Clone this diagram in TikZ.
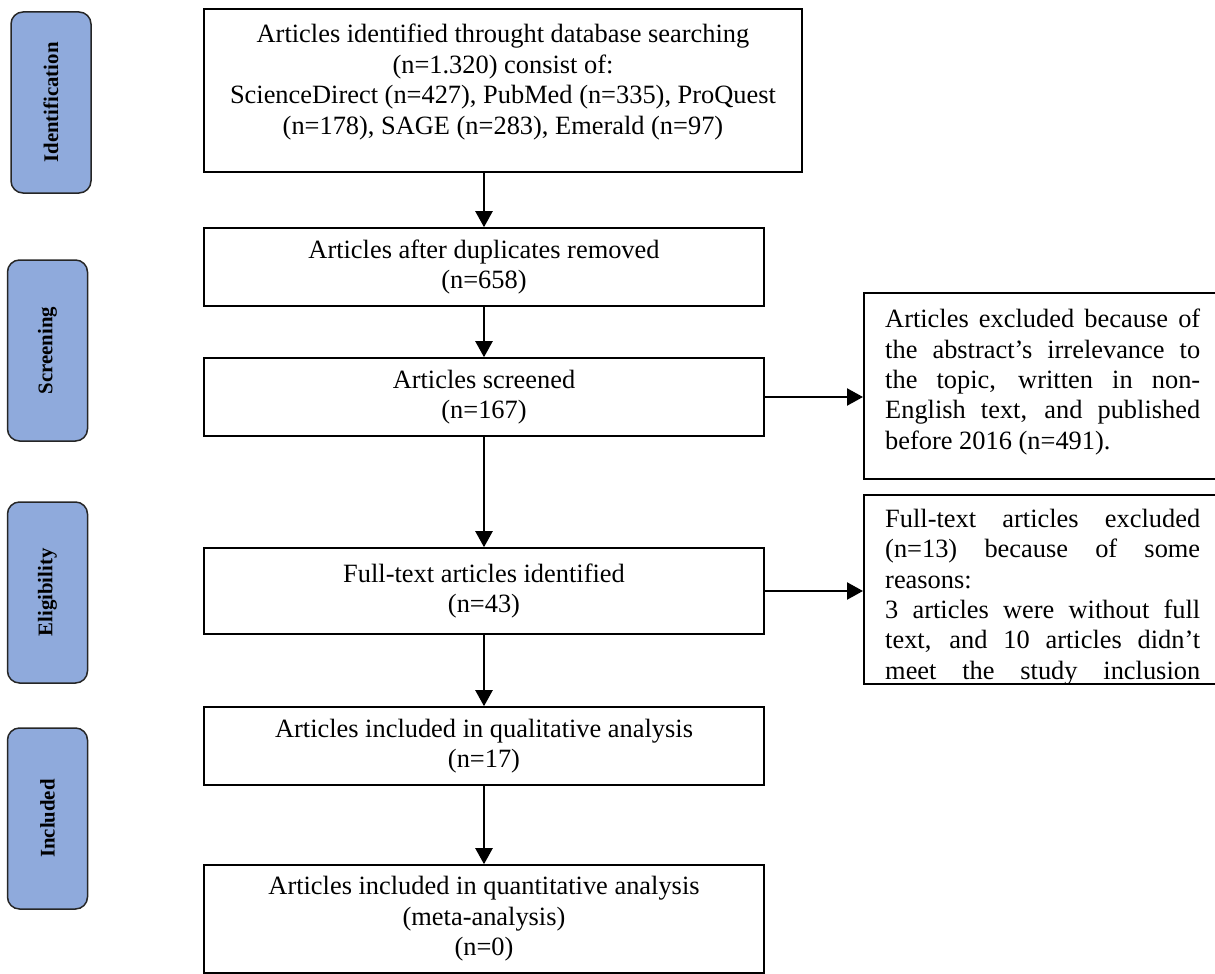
\documentclass[tikz,border=0pt]{standalone}
\usepackage{fontspec}
\setmainfont{Liberation Serif}
\usetikzlibrary{arrows.meta}
\definecolor{phaseblue}{HTML}{8FAADC}
\tikzset{
  box/.style={draw=black, line width=1.6pt, inner sep=0pt, align=center},
  txt/.style={inner sep=0pt, align=center, font=\fontsize{26.4}{30.4}\selectfont},
  sidetxt/.style={inner sep=0pt, align=left, anchor=west, font=\fontsize{26.4}{30.4}\selectfont},
  phase/.style={draw=black!85, line width=1.5pt, fill=phaseblue, rounded corners=12pt, rotate=90,
    minimum width=181pt, minimum height=80pt, inner sep=0pt, font=\fontsize{20.8}{24}\selectfont\bfseries},
  arr/.style={line width=2.3pt, -{Triangle[length=16pt,width=17pt]}},
}
\newcommand{\jl}[1]{\makebox[315pt][s]{#1}}
\begin{document}
\begin{tikzpicture}[x=1pt,y=-1pt]
\useasboundingbox (0,0) rectangle (1215,974);
\clip (0,0) rectangle (1215,974);
% phase labels
\node[phase] (ph1) at (51,102.5) {Identification};
\node[phase] (ph2) at (47.5,350.5) {Screening};
\node[phase] (ph3) at (47.5,592.5) {Eligibility};
\node[phase] (ph4) at (47.5,818.5) {Included};
% main boxes
\node[box, minimum width=598pt, minimum height=163pt] (b1) at (503,90.5) {};
\node[txt] (t1) at (503,82) {Articles identified throught database searching\\(n=1.320) consist of:\\ScienceDirect (n=427), PubMed (n=335), ProQuest\\(n=178), SAGE (n=283), Emerald (n=97)};
\node[box, txt, minimum width=560pt, minimum height=78pt] (b2) at (484,267) {Articles after duplicates removed\\(n=658)};
\node[box, txt, minimum width=560pt, minimum height=78pt] (b3) at (484,397) {Articles screened\\(n=167)};
\node[box, txt, minimum width=560pt, minimum height=86pt] (b4) at (484,591) {Full-text articles identified\\(n=43)};
\node[box, txt, minimum width=560pt, minimum height=78pt] (b5) at (484,746) {Articles included in qualitative analysis\\(n=17)};
\node[box, txt, minimum width=560pt, minimum height=108pt] (b6) at (484,919) {Articles included in quantitative analysis\\(meta-analysis)\\(n=0)};
% side boxes
\node[box, anchor=north west, minimum width=370pt, minimum height=186pt] (r1) at (863,292) {};
\node[sidetxt] (rt1) at (885,382) {\jl{Articles excluded because of}\\\jl{the abstract’s irrelevance to}\\\jl{the topic, written in non-}\\\jl{English text, and published}\\before 2016 (n=491).};
\node[box, anchor=north west, minimum width=370pt, minimum height=189pt] (r2) at (863,494) {};
\node[sidetxt] (rt2) at (885,597) {\jl{Full-text articles excluded}\\\jl{(n=13) because of some}\\reasons:\\\jl{3 articles were without full}\\\jl{text, and 10 articles didn’t}\\\jl{meet the study inclusion}};
% arrows
\draw[arr] (b1.south -| b2.north) -- (b2.north);
\draw[arr] (b2.south) -- (b3.north);
\draw[arr] (b3.south) -- (b4.north);
\draw[arr] (b4.south) -- (b5.north);
\draw[arr] (b5.south) -- (b6.north);
\draw[arr] (b3.east) -- (b3.east -| r1.west);
\draw[arr] (b4.east) -- (b4.east -| r2.west);
\end{tikzpicture}
\end{document}
